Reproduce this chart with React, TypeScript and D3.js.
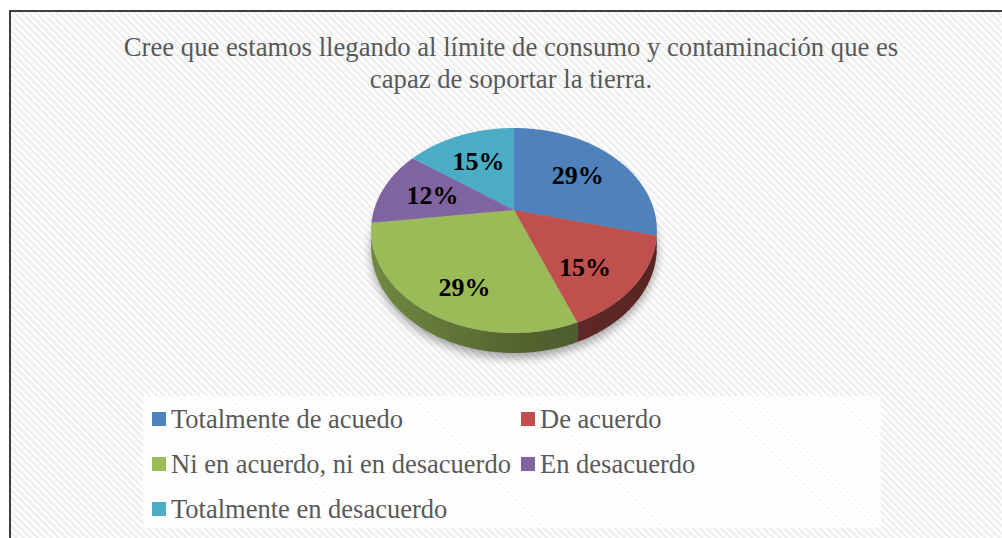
import React from 'react';
import * as d3 from 'd3';

const categories = [
  'Totalmente de acuedo',
  'De acuerdo',
  'Ni en acuerdo, ni en desacuerdo',
  'En desacuerdo',
  'Totalmente en desacuerdo',
];
const values = [29, 15, 29, 12, 15];
const colors = ['#4F81BD', '#C0504D', '#9BBB59', '#8064A2', '#4BACC6'];
const titleLines = [
  'Cree que estamos llegando al límite de consumo y contaminación que es',
  'capaz de soportar la tierra.',
];

const W = 1002;
const H = 538;
const cx = 514;
const cy = 210;
const R = 140;
const sinA = 0.703;
const cosA = 0.711;
const D = 498;
const thick = 16;

function project(theta: number, r: number, h = 0): [number, number] {
  const x = r * Math.sin(theta);
  const z = r * Math.cos(theta);
  const s = D / (D + z * cosA);
  return [cx + s * x, cy - s * z * sinA + s * h];
}

function arcPoints(a0: number, a1: number, r: number, h = 0): [number, number][] {
  const n = Math.max(2, Math.ceil(((a1 - a0) * 180) / Math.PI));
  const pts: [number, number][] = [];
  for (let i = 0; i <= n; i++) pts.push(project(a0 + ((a1 - a0) * i) / n, r, h));
  return pts;
}

const line = d3.line<[number, number]>().curve(d3.curveLinearClosed);

export default function App() {
  const pie = d3.pie<number>().sort(null).startAngle(0).endAngle(2 * Math.PI);
  const arcs = pie(values);
  const silL = Math.acos(-(R * cosA) / D);
  const silR = 2 * Math.PI - silL;

  const walls = arcs
    .map((a, i) => {
      const a0 = Math.max(a.startAngle, silL);
      const a1 = Math.min(a.endAngle, silR);
      if (a1 <= a0) return null;
      const top = arcPoints(a0, a1, R, 0);
      const bot = arcPoints(a0, a1, R, thick).reverse();
      return { i, d: line([...top, ...bot]) as string };
    })
    .filter(Boolean) as { i: number; d: string }[];

  const tops = arcs.map((a, i) => ({
    i,
    d: line([project(0, 0), ...arcPoints(a.startAngle, a.endAngle, R)]) as string,
  }));

  const labels = arcs.map((a, i) => {
    const mid = (a.startAngle + a.endAngle) / 2;
    const [x, y] = project(mid, R * 0.62);
    const z = Math.cos(mid);
    const s = D / (D + R * 0.62 * z * cosA);
    const dy = Math.max(0, -z) * thick * s * 1.2;
    return { i, x, y: y + dy, text: `${values[i]}%` };
  });

  const shadowPts = arcPoints(0, 2 * Math.PI, R, thick + 4);

  const legendCols = [152, 521];
  const legendRowY = (r: number) => 419 + r * 45;

  return (
    <svg
      width={W}
      height={H}
      style={{ position: 'absolute', left: 0, top: 0, display: 'block' }}
      fontFamily="'Liberation Serif', 'Times New Roman', serif"
    >
      <defs>
        <pattern id="stripes" patternUnits="userSpaceOnUse" width={5} height={5} patternTransform="rotate(-45)">
          <rect width={5} height={5} fill="#ffffff" />
          <rect width={2.4} height={5} fill="#eeeeee" />
        </pattern>
        <filter id="blur" x="-20%" y="-20%" width="140%" height="140%">
          <feGaussianBlur stdDeviation={5} />
        </filter>
        {colors.map((c, i) => {
          const base = d3.color(c)!;
          return (
            <linearGradient key={i} id={`side${i}`} gradientUnits="userSpaceOnUse" x1={cx - R} x2={cx + R} y1={0} y2={0}>
              <stop offset="0" stopColor={base.darker(0.9).formatHex()} />
              <stop offset="0.55" stopColor={base.darker(1.8).formatHex()} />
              <stop offset="1" stopColor={base.darker(2.2).formatHex()} />
            </linearGradient>
          );
        })}
      </defs>
      <rect x={0} y={0} width={W} height={H} fill="#ffffff" />
      <rect x={10} y={11} width={W + 10} height={H + 10} fill="url(#stripes)" stroke="#000" strokeWidth={1.5} />

      {titleLines.map((t, k) => (
        <text key={k} x={511} y={56 + k * 32} textAnchor="middle" fontSize={26.7} fill="#595959">
          {t}
        </text>
      ))}

      <path d={line(shadowPts) as string} fill="#000" opacity={0.35} filter="url(#blur)" />
      {walls.map((w) => (
        <path key={`w${w.i}`} d={w.d} fill={`url(#side${w.i})`} />
      ))}
      {tops.map((t) => (
        <path key={`t${t.i}`} d={t.d} fill={colors[t.i]} />
      ))}
      {labels.map((l) => (
        <text key={`l${l.i}`} x={l.x} y={l.y} textAnchor="middle" dominantBaseline="central" fontSize={26} fontWeight="bold" fill="#000">
          {l.text}
        </text>
      ))}

      <rect x={143} y={396} width={738} height={132} fill="#ffffff" opacity={0.75} />
      {categories.map((c, i) => {
        const col = i % 2;
        const row = Math.floor(i / 2);
        const y = legendRowY(row);
        return (
          <g key={c}>
            <rect x={legendCols[col]} y={y - 7} width={14} height={14} fill={colors[i]} />
            <text x={legendCols[col] + 19} y={y} dominantBaseline="central" fontSize={26.5} fill="#595959">
              {c}
            </text>
          </g>
        );
      })}
    </svg>
  );
}
